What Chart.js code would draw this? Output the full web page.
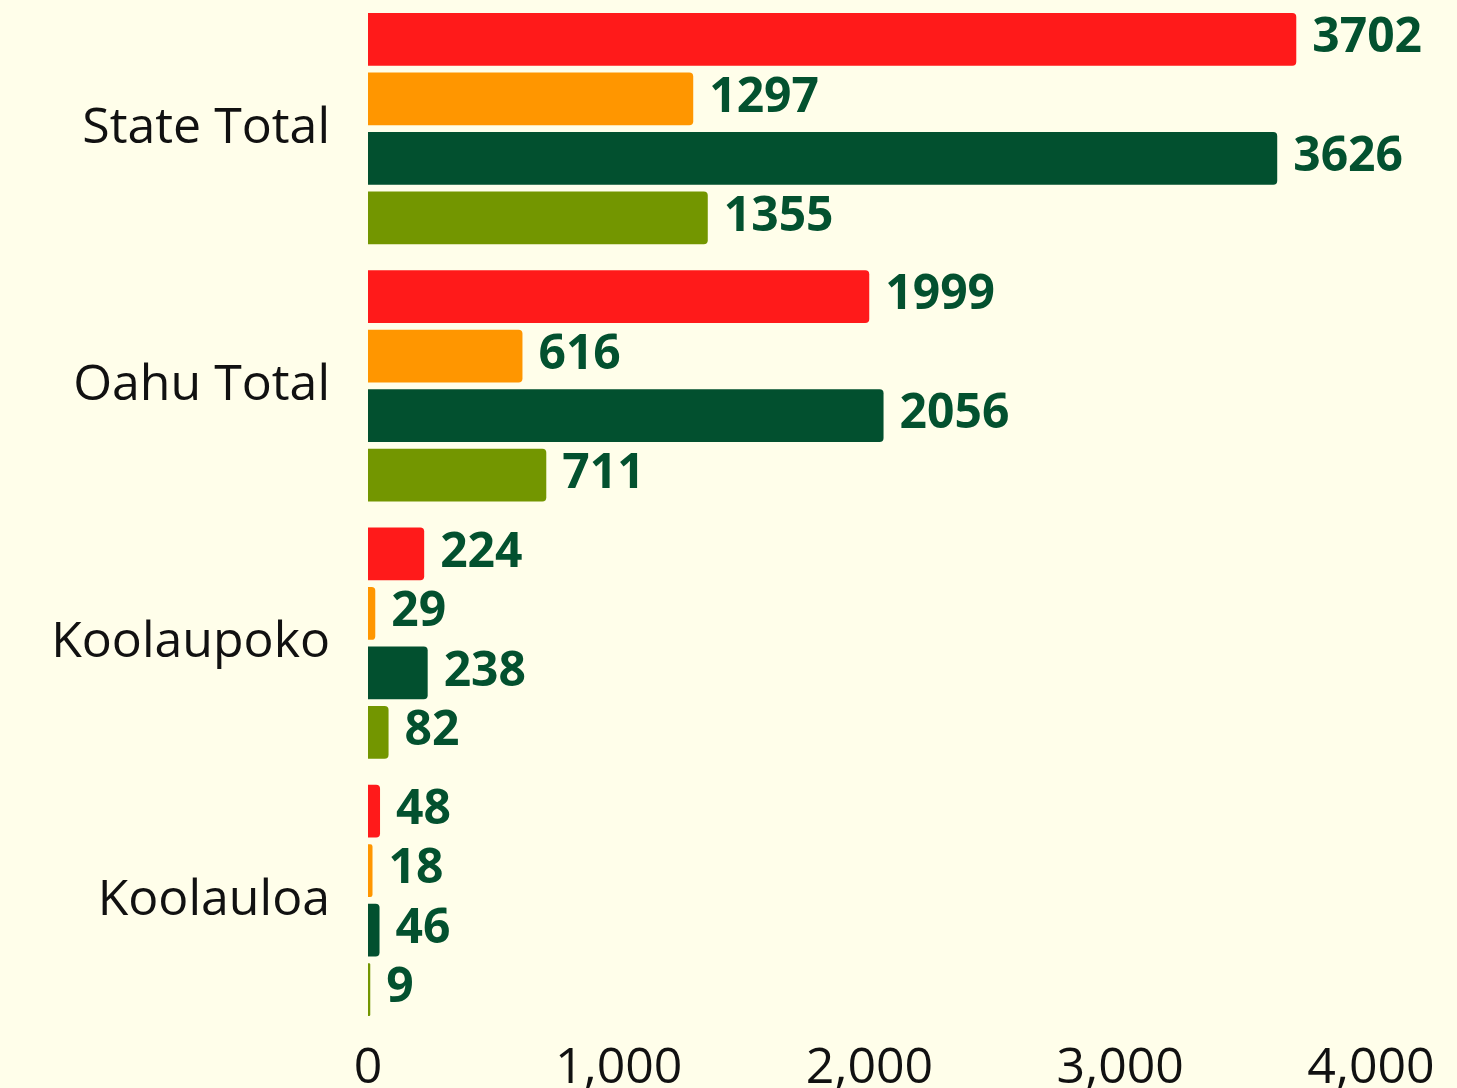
<!DOCTYPE html>
<html>
<head>
<meta charset="utf-8">
<script src="https://cdn.jsdelivr.net/npm/chart.js@4/dist/chart.umd.min.js"></script>
<style>
  html, body { margin: 0; padding: 0; background: #fffeea; }
  #wrap { width: 1457px; height: 1088px; position: relative; }
</style>
</head>
<body>
<div id="wrap"><canvas id="c" width="1457" height="1088"></canvas></div>
<script>
const categories = ["State Total", "Oahu Total", "Koolaupoko", "Koolauloa"];
const seriesA = [3702, 1999, 224, 48];
const seriesB = [1297, 616, 29, 18];
const seriesC = [3626, 2056, 238, 46];
const seriesD = [1355, 711, 82, 9];
const seriesColors = ["#ff1a1a", "#ff9600", "#02502f", "#739600"];
const xTicks = [0, 1000, 2000, 3000, 4000];

const FONT = "'Open Sans', 'Noto Sans', sans-serif";
const LABEL_COLOR = "#03512f";

const valueLabels = {
  id: 'valueLabels',
  afterDatasetsDraw(chart) {
    const ctx = chart.ctx;
    ctx.save();
    ctx.font = "bold 48px " + FONT;
    ctx.fillStyle = LABEL_COLOR;
    ctx.textAlign = 'left';
    ctx.textBaseline = 'middle';
    chart.data.datasets.forEach((ds, di) => {
      const meta = chart.getDatasetMeta(di);
      meta.data.forEach((el, i) => {
        ctx.fillText(String(ds.data[i]), el.x + 16, el.y - 1);
      });
    });
    ctx.restore();
  }
};

const bg = {
  id: 'bg',
  beforeDraw(chart) {
    const ctx = chart.ctx;
    ctx.save();
    ctx.fillStyle = '#fffeea';
    ctx.fillRect(0, 0, chart.width, chart.height);
    ctx.restore();
  }
};

const allSeries = [seriesA, seriesB, seriesC, seriesD];
new Chart(document.getElementById('c'), {
  type: 'bar',
  data: {
    labels: categories,
    datasets: allSeries.map((s, i) => ({
      label: 'S' + i,
      data: s,
      backgroundColor: seriesColors[i],
      borderRadius: 4,
      borderSkipped: 'start',
      categoryPercentage: 0.925,
      barPercentage: 0.89
    }))
  },
  options: {
    indexAxis: 'y',
    responsive: false,
    animation: false,
    layout: { padding: { top: 0, right: 86, bottom: 0, left: 0 } },
    plugins: { legend: { display: false }, tooltip: { enabled: false } },
    scales: {
      x: {
        min: 0, max: 4000,
        afterBuildTicks(scale) { scale.ticks = xTicks.map(v => ({ value: v })); },
        afterFit(scale) { scale.height = 59; },
        grid: { display: false, drawTicks: false },
        border: { display: false },
        ticks: {
          color: '#111',
          font: { family: FONT, size: 50 },
          padding: 10,
          callback: v => v.toLocaleString('en-US')
        }
      },
      y: {
        afterFit(scale) { scale.width = 368; scale.paddingTop = 0; scale.paddingBottom = 0; },
        grid: { display: false, drawTicks: false },
        border: { display: false },
        ticks: {
          color: '#111',
          font: { family: FONT, size: 50 },
          padding: 38
        }
      }
    }
  },
  plugins: [bg, valueLabels]
});
</script>
</body>
</html>
